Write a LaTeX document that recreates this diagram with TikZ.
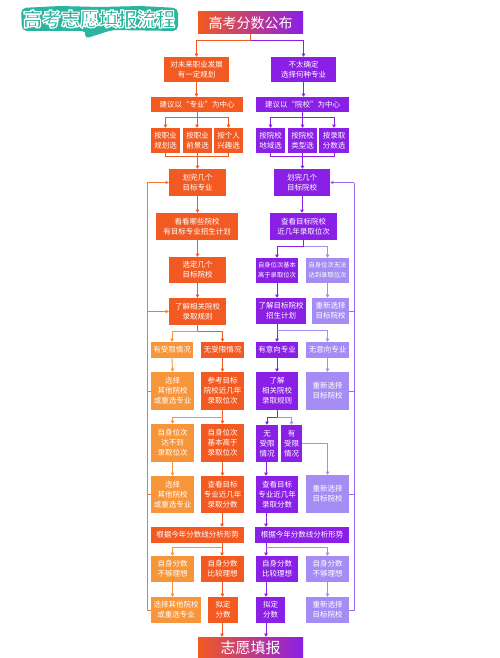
\documentclass[tikz,border=0pt]{standalone}
\usepackage{fontspec}
\newfontfamily\cjk{Noto Sans CJK SC}
\usetikzlibrary{arrows.meta,calc}
\definecolor{OR}{HTML}{F25A22}
\definecolor{LO}{HTML}{F7953A}
\definecolor{PU}{HTML}{8A1FE6}
\definecolor{LP}{HTML}{A58CF5}
\definecolor{TE}{HTML}{2BB59F}
\definecolor{LL}{HTML}{F47A32}
\definecolor{RL}{HTML}{9B6AF0}
\tikzset{
  box/.style={rectangle, inner sep=0pt, text=white, align=center, font=\cjk\fontsize{7.5}{10}\selectfont},
  ob/.style={box, fill=OR},
  lob/.style={box, fill=LO},
  pb/.style={box, fill=PU},
  lpb/.style={box, fill=LP},
  ln/.style={line width=0.9pt},
  arr/.style={-{Triangle[length=3.2pt,width=3.6pt]}},
  ttl/.style={font=\cjk\bfseries\fontsize{19}{19}\selectfont}
}
\begin{document}
\begin{tikzpicture}[x=1pt,y=-1pt]
\useasboundingbox (0,0) rectangle (500,658);
\fill[white] (0,0) rectangle (500,658);

% title
\fill[TE, rounded corners=5pt] (21,8) -- (60,6) -- (100,7) -- (140,6) -- (178,8) -- (178,31) -- (112,30) -- (84,39) -- (87,31) -- (22,31) -- cycle;
\node[ttl, text=white] (t2) at (99,19) {\special{pdf:literal direct 1 Tr 1.2 w}高考志愿填报流程\special{pdf:literal direct 0 Tr 0.4 w}};

% top and bottom
\node[box, left color=OR, right color=PU, minimum width=105pt, minimum height=22pt, font=\cjk\fontsize{14}{14}\selectfont] (top) at (250.5,23) {高考分数公布};
\node[box, left color=OR, right color=PU, minimum width=105pt, minimum height=22pt, font=\cjk\fontsize{15}{15}\selectfont] (bot) at (250.5,648) {志愿填报};

% left column
\node[ob, minimum width=65pt, minimum height=25pt] (a1) at (196.5,69.5) {对未来职业发展\\有一定规划};
\node[ob, minimum width=92pt, minimum height=15pt] (a2) at (197,104.5) {建议以“专业”为中心};
\node[ob, minimum width=29pt, minimum height=25pt] (a3a) at (165.5,140.5) {按职业\\规划选};
\node[ob, minimum width=29pt, minimum height=25pt] (a3b) at (197.5,140.5) {按职业\\前景选};
\node[ob, minimum width=29pt, minimum height=25pt] (a3c) at (228.5,140.5) {按个人\\兴趣选};
\node[ob, minimum width=57pt, minimum height=27pt] (a4) at (197.5,182.5) {划完几个\\目标专业};
\node[ob, minimum width=82pt, minimum height=27pt] (a5) at (197,226.5) {看看哪些院校\\有目标专业招生计划};
\node[ob, minimum width=57pt, minimum height=26pt] (a6) at (197.5,270) {选定几个\\目标院校};
\node[ob, minimum width=57pt, minimum height=27pt] (a7) at (197.5,311.5) {了解相关院校\\录取规则};
\node[lob, minimum width=42pt, minimum height=16pt] (a8a) at (172,350) {有受限情况};
\node[ob, minimum width=43pt, minimum height=16pt] (a8b) at (222.5,350) {无受限情况};
\node[lob, minimum width=43pt, minimum height=38pt] (a9a) at (172.5,391) {选择\\其他院校\\或重选专业};
\node[ob, minimum width=43pt, minimum height=38pt] (a9b) at (222.5,391) {参考目标\\院校近几年\\录取位次};
\node[lob, minimum width=43pt, minimum height=38pt] (a10a) at (172.5,443) {自身位次\\达不到\\录取位次};
\node[ob, minimum width=43pt, minimum height=38pt] (a10b) at (222.5,443) {自身位次\\基本高于\\录取位次};
\node[lob, minimum width=43pt, minimum height=37pt] (a11a) at (172.5,494.5) {选择\\其他院校\\或重选专业};
\node[ob, minimum width=43pt, minimum height=37pt] (a11b) at (222.5,494.5) {查看目标\\专业近几年\\录取分数};
\node[ob, minimum width=93pt, minimum height=16pt] (a12) at (197.5,535) {根据今年分数线分析形势};
\node[lob, minimum width=43pt, minimum height=26pt] (a13a) at (172.5,569) {自身分数\\不够理想};
\node[ob, minimum width=43pt, minimum height=26pt] (a13b) at (222.5,569) {自身分数\\比较理想};
\node[lob, minimum width=50pt, minimum height=26pt] (a14a) at (176,610) {选择其他院校\\或重选专业};
\node[ob, minimum width=30pt, minimum height=26pt] (a14b) at (223,610) {拟定\\分数};

% right column
\node[pb, minimum width=65pt, minimum height=25pt] (b1) at (303.5,69.5) {不太确定\\选择何种专业};
\node[pb, minimum width=93pt, minimum height=15pt] (b2) at (302.5,104.5) {建议以“院校”为中心};
\node[pb, minimum width=29pt, minimum height=25pt] (b3a) at (270.5,140.5) {按院校\\地域选};
\node[pb, minimum width=29pt, minimum height=25pt] (b3b) at (302.5,140.5) {按院校\\类型选};
\node[pb, minimum width=30pt, minimum height=25pt] (b3c) at (334,140.5) {按录取\\分数选};
\node[pb, minimum width=56pt, minimum height=27pt] (b4) at (302,182.5) {划完几个\\目标院校};
\node[pb, minimum width=67pt, minimum height=27pt] (b5) at (303.5,226.5) {查看目标院校\\近几年录取位次};
\node[pb, minimum width=42pt, minimum height=25pt, font=\cjk\fontsize{6.3}{10}\selectfont] (b6a) at (277,270.5) {自身位次基本\\高于录取位次};
\node[lpb, minimum width=43pt, minimum height=25pt, font=\cjk\fontsize{6.3}{10}\selectfont] (b6b) at (327.5,270.5) {自身位次无法\\达到录取位次};
\node[pb, minimum width=50pt, minimum height=26pt] (b7a) at (281,311) {了解目标院校\\招生计划};
\node[lpb, minimum width=37pt, minimum height=26pt] (b7b) at (330.5,311) {重新选择\\目标院校};
\node[pb, minimum width=42pt, minimum height=16pt] (b8a) at (277,350) {有意向专业};
\node[lpb, minimum width=43pt, minimum height=16pt] (b8b) at (327.5,350) {无意向专业};
\node[pb, minimum width=42pt, minimum height=38pt] (b9a) at (277,391) {了解\\相关院校\\录取规则};
\node[lpb, minimum width=43pt, minimum height=38pt] (b9b) at (327.5,391) {重新选择\\目标院校};
\node[pb, minimum width=22pt, minimum height=37pt] (b10a) at (267,443.5) {无\\受限\\情况};
\node[pb, minimum width=21pt, minimum height=37pt] (b10b) at (291.5,443.5) {有\\受限\\情况};
\node[pb, minimum width=42pt, minimum height=37pt] (b11a) at (277,494.5) {查看目标\\专业近几年\\录取分数};
\node[lpb, minimum width=43pt, minimum height=38pt] (b11b) at (327.5,494) {重新选择\\目标院校};
\node[pb, minimum width=94pt, minimum height=16pt] (b12) at (302,535) {根据今年分数线分析形势};
\node[pb, minimum width=42pt, minimum height=26pt] (b13a) at (277,569) {自身分数\\比较理想};
\node[lpb, minimum width=43pt, minimum height=26pt] (b13b) at (327.5,569) {自身分数\\不够理想};
\node[pb, minimum width=29pt, minimum height=26pt] (b14a) at (270.5,610) {拟定\\分数};
\node[lpb, minimum width=43pt, minimum height=26pt] (b14b) at (327.5,610) {重新选择\\目标院校};

% helper columns
\coordinate (cR1) at (266,0);
\coordinate (cL2) at (222,0);
\coordinate (lx) at (147,0);
\coordinate (rx) at (354,0);

% top split
\coordinate (tj) at ($(top.south)+(0,6)$);
\draw[ln,OR] (top.south) -- (tj);
\draw[ln,OR,arr] (tj) -| (a1.north);
\draw[ln,PU,arr] (tj) -| (b1.north);

% left flow
\draw[ln,OR,arr] (a1.south) -- (a1.south |- a2.north);
\coordinate (a2j) at ($(a2.south)+(0,5)$);
\draw[ln,OR] (a2.south) -- (a2j);
\draw[ln,OR,arr] (a2j) -| (a3a.north);
\draw[ln,OR,arr] (a2j) -| (a3c.north);
\draw[ln,OR,arr] (a2.south) -- (a2.south |- a3b.north);
\draw[ln,OR] (a3a.south) -- ++(0,3) -| (a3c.south);
\draw[ln,OR,arr] (a3b.south) -- (a3b.south |- a4.north);
\draw[ln,OR,arr] (a4.south) -- (a4.south |- a5.north);
\draw[ln,OR,arr] (a5.south -| a4.south) -- (a6.north);
\draw[ln,OR,arr] (a6.south) -- (a7.north);
\coordinate (a7j) at ($(a7.south)+(0,6)$);
\draw[ln,OR] (a7.south) -- (a7j);
\draw[ln,LO,arr] (a7j) -| (a8a.north);
\draw[ln,OR,arr] (a7j) -| (a8b.north);
\draw[ln,LO,arr] (a8a.south) -- (a9a.north);
\draw[ln,OR,arr] (a8b.south) -- (a9b.north);
\coordinate (a9j) at ($(a9b.south)+(0,7)$);
\draw[ln,OR,arr] (a9b.south) -- (a10b.north);
\draw[ln,LO,arr] (a9j) -| (a10a.north);
\draw[ln,LO,arr] (a10a.south) -- (a11a.north);
\draw[ln,OR,arr] (a10b.south) -- (a11b.north);
\draw[ln,OR,arr] (a11b.south -| cL2) -- (a12.north -| cL2);
\coordinate (a12j) at ($(a12.south -| cL2)+(0,4)$);
\draw[ln,OR,arr] (a12.south -| cL2) -- (a13b.north -| cL2);
\draw[ln,LO,arr] (a12j) -| (a13a.north);
\draw[ln,LO,arr] (a13a.south) -- (a13a.south |- a14a.north);
\draw[ln,OR,arr] (a13b.south) -- (a13b.south |- a14b.north);
\draw[ln,OR,arr] (a14b.south -| cL2) -- (bot.north -| cL2);

% left feedback
\draw[ln,LL] (a14a.west) -- (a14a.west -| lx) -- (a4.west -| lx);
\draw[ln,LL,arr] (a4.west -| lx) -- (a4.west);
\draw[ln,LL,arr] (a7.west -| lx) -- (a7.west);
\draw[ln,LL] (a9a.west) -- (a9a.west -| lx);
\draw[ln,LL] (a11a.west) -- (a11a.west -| lx);

% right flow
\draw[ln,PU,arr] (b1.south) -- (b1.south |- b2.north);
\coordinate (b2j) at ($(b2.south)+(0,5)$);
\draw[ln,PU] (b2.south) -- (b2j);
\draw[ln,PU,arr] (b2j) -| (b3a.north);
\draw[ln,PU,arr] (b2j) -| (b3c.north);
\draw[ln,PU,arr] (b2.south) -- (b2.south |- b3b.north);
\draw[ln,PU] (b3a.south) -- ++(0,3) -| (b3c.south);
\draw[ln,PU,arr] (b3b.south) -- (b3b.south |- b4.north);
\draw[ln,PU,arr] (b4.south) -- (b4.south |- b5.north);
\coordinate (b5j) at ($(b5.south)+(0,6)$);
\draw[ln,PU] (b5.south) -- (b5j);
\draw[ln,PU,arr] (b5j) -| (b6a.north);
\draw[ln,LP,arr] (b5j) -| (b6b.north);
\draw[ln,PU,arr] (b6a.south) -- (b6a.south |- b7a.north);
\draw[ln,LP,arr] (b6b.south) -- (b6b.south |- b7b.north);
\coordinate (b7j) at ($(b7a.south -| b8a.north)+(0,6)$);
\draw[ln,PU,arr] (b7a.south -| b8a.north) -- (b8a.north);
\draw[ln,LP,arr] (b7j) -| (b8b.north);
\draw[ln,PU,arr] (b8a.south) -- (b9a.north);
\draw[ln,LP,arr] (b8b.south) -- (b9b.north);
\coordinate (b9j) at ($(b9a.south)+(0,7)$);
\draw[ln,PU] (b9a.south) -- (b9j);
\draw[ln,PU,arr] (b9j) -| (b10a.north);
\draw[ln,LP,arr] (b9j) -| (b10b.north);
\draw[ln,PU,arr] (b10a.south -| cR1) -- (b11a.north -| cR1);
\draw[ln,LP,arr] (b10b.east) -| (b11b.north);
\draw[ln,PU,arr] (b11a.south -| cR1) -- (b12.north -| cR1);
\coordinate (b12j) at ($(b12.south -| cR1)+(0,4)$);
\draw[ln,PU,arr] (b12.south -| cR1) -- (b13a.north -| cR1);
\draw[ln,LP,arr] (b12j) -| (b13b.north);
\draw[ln,PU,arr] (b13a.south -| cR1) -- (b14a.north -| cR1);
\draw[ln,LP,arr] (b13b.south) -- (b14b.north);
\draw[ln,PU,arr] (b14a.south -| cR1) -- (bot.north -| cR1);

% right feedback
\draw[ln,RL] (b14b.east) -- (b14b.east -| rx) -- (b4.east -| rx);
\draw[ln,RL,arr] (b4.east -| rx) -- (b4.east);
\draw[ln,RL] (b7b.east) -- (b7b.east -| rx);
\draw[ln,RL] (b9b.east) -- (b9b.east -| rx);
\draw[ln,RL] (b11b.east) -- (b11b.east -| rx);
\end{tikzpicture}
\end{document}
